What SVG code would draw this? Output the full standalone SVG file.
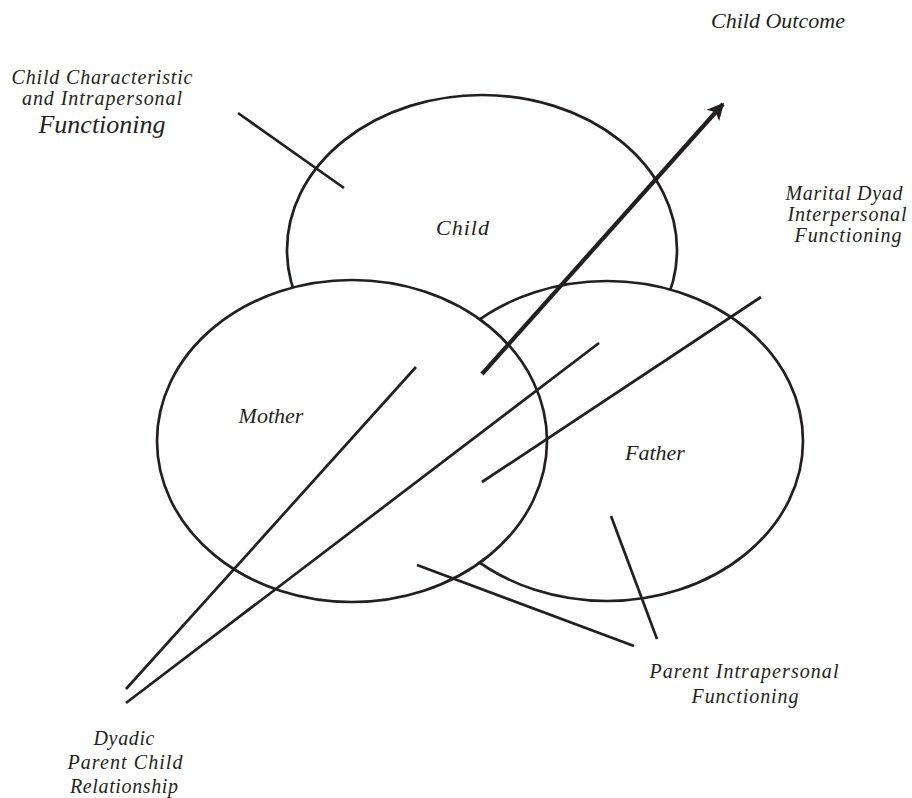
<svg xmlns="http://www.w3.org/2000/svg" width="912" height="798" viewBox="0 0 912 798">
<style>
.ell{fill:#fff;stroke:#231f20;stroke-width:2.7}
.ln{stroke:#231f20;stroke-width:2.7;fill:none;stroke-linecap:butt}
.arr{stroke:#231f20;stroke-width:4.2;fill:none}
.t{font-family:"Liberation Serif","Times New Roman",serif;font-style:italic;font-size:22px;fill:#231f20;text-anchor:middle}
.s{font-size:20px}
.big{font-size:26px}
</style>
<defs>
<marker id="ah" viewBox="0 0 10 10" refX="9" refY="5" markerUnits="userSpaceOnUse" markerWidth="22" markerHeight="17" orient="auto">
<path d="M0,0 L10,5 L0,10 L2.5,5 z" fill="#231f20"/>
</marker>
</defs>
<rect width="912" height="798" fill="#fff"/>
<g id="child">
<ellipse class="ell" cx="482" cy="250" rx="195" ry="155"/>
<text class="t" x="463" y="235" letter-spacing="1">Child</text>
</g>
<g id="father">
<ellipse class="ell" cx="607" cy="441" rx="196" ry="160"/>
<text class="t" x="655" y="460">Father</text>
</g>
<g id="mother">
<ellipse class="ell" cx="352" cy="441" rx="195" ry="161"/>
<text class="t" x="271" y="423">Mother</text>
</g>
<g id="connectors">
<line class="ln" x1="238" y1="113" x2="344" y2="188"/>
<line class="arr" x1="482" y1="374" x2="723" y2="104" marker-end="url(#ah)"/>
<line class="ln" x1="126" y1="689" x2="416" y2="367"/>
<line class="ln" x1="126" y1="703" x2="599" y2="343"/>
<line class="ln" x1="482" y1="482" x2="761" y2="297"/>
<line class="ln" x1="417" y1="565" x2="634" y2="646"/>
<line class="ln" x1="611" y1="516" x2="657" y2="639"/>
</g>
<g id="labels">
<text class="t" x="778" y="28">Child Outcome</text>
<text class="t s" x="102" y="84" textLength="181">Child Characteristic</text>
<text class="t s" x="102" y="105" textLength="160">and Intrapersonal</text>
<text class="t big" x="102" y="133">Functioning</text>
<text class="t s" x="844" y="200" textLength="117">Marital Dyad</text>
<text class="t s" x="847" y="221" textLength="119">Interpersonal</text>
<text class="t s" x="848" y="242" textLength="107">Functioning</text>
<text class="t s" x="744" y="678" textLength="189">Parent Intrapersonal</text>
<text class="t s" x="745" y="703" textLength="107">Functioning</text>
<text class="t s" x="124" y="745" textLength="61">Dyadic</text>
<text class="t s" x="125" y="769" textLength="115">Parent Child</text>
<text class="t s" x="124" y="793" textLength="108">Relationship</text>
</g>
</svg>
